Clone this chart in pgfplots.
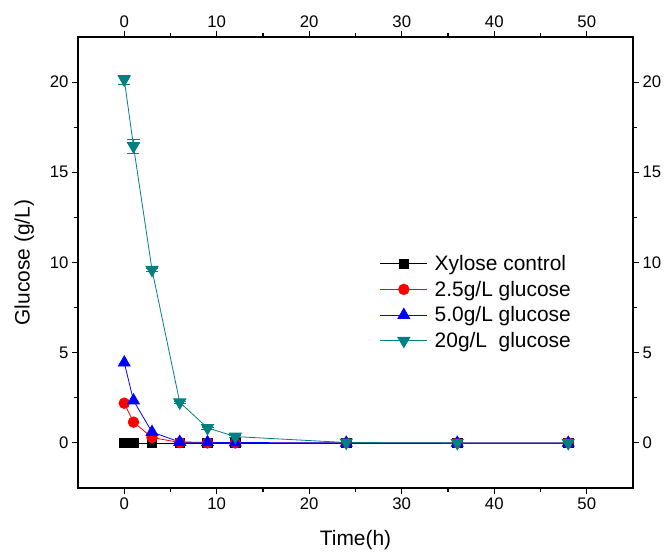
\documentclass[border=0pt]{standalone}
\usepackage{fontspec}
\setmainfont{Liberation Sans}
\usepackage{pgfplots}
\pgfplotsset{compat=1.18}
\definecolor{teal2}{RGB}{0,128,128}
\pgfplotsset{
  base/.style={
    scale only axis, width=555bp, height=451bp,
    xmin=-5, xmax=55, ymin=-2.5, ymax=22.5,
    xtick={0,10,20,30,40,50}, ytick={0,5,10,15,20},
    minor x tick num=1, minor y tick num=1,
    tick align=outside,
    major tick length=6bp, minor tick length=4bp,
    every tick/.style={black, line width=1.1bp},
    axis line style={line width=1.2bp},
    /pgf/number format/assume math mode=true,
    tick label style={font=\fontsize{16.8}{18}\selectfont},
  }
}
\begin{document}
\begin{tikzpicture}
\begin{axis}[base, name=ax,
  xtick pos=both, ytick pos=both,
  xticklabel pos=lower, yticklabel pos=left,
  xlabel={Time(h)}, ylabel={Glucose (g/L)},
  xlabel shift=14bp, ylabel shift=9bp,
  label style={font=\fontsize{21}{24}\selectfont},
  legend cell align=left,
  legend style={draw=none, fill=none, at={(0.54,0.525)}, anchor=north west,
    font=\fontsize{21}{24}\selectfont, row sep=5bp, inner sep=2bp},
  legend image code/.code={\draw[mark repeat=2,mark phase=2] plot coordinates {(0cm,0cm)(0.83cm,0cm)(1.66cm,0cm)};\path (1.66cm+5bp,0cm);},
]
\addplot[black, line width=0.8bp, mark=square*, mark size=4.8bp] coordinates {
(0,0) (1,0) (3,0) (6,0) (9,0) (12,0) (24,0) (36,0) (48,0)};
\addlegendentry{Xylose control}
\addplot[red, line width=0.8bp, mark=*, mark size=5.3bp] coordinates {
(0,2.2) (1,1.15) (3,0.3) (6,0.02) (9,0) (12,0) (24,0) (36,0) (48,0)};
\addlegendentry{2.5g/L glucose}
\addplot[blue, line width=0.8bp, mark=triangle*, mark size=6.8bp] coordinates {
(0,4.45) (1,2.35) (3,0.6) (6,0.05) (9,0.03) (12,0.02) (24,0) (36,0) (48,0)};
\addlegendentry{5.0g/L glucose}
\addplot[teal2, line width=0.8bp, mark=triangle*, mark size=7bp, mark options={rotate=180},
  error bars/.cd, y dir=both, y explicit, error mark options={teal2, rotate=90, mark size=6bp}] coordinates {
(0,20.15) +- (0,0.25) (1,16.45) +- (0,0.4) (3,9.6) +- (0,0.1) (6,2.25) +- (0,0.05) (9,0.83) +- (0,0.05) (12,0.35) +- (0,0.05) (24,0.02) +- (0,0) (36,0) +- (0,0) (48,0) +- (0,0)};
\addlegendentry{20g/L\ \ glucose}
\end{axis}
\begin{axis}[base,
  xtick pos=upper, ytick pos=right,
  xticklabel pos=upper, yticklabel pos=right,
]
\end{axis}
\path ([xshift=-78bp,yshift=-71bp]ax.south west) rectangle ([xshift=32bp,yshift=37bp]ax.north east);
\end{tikzpicture}
\end{document}
